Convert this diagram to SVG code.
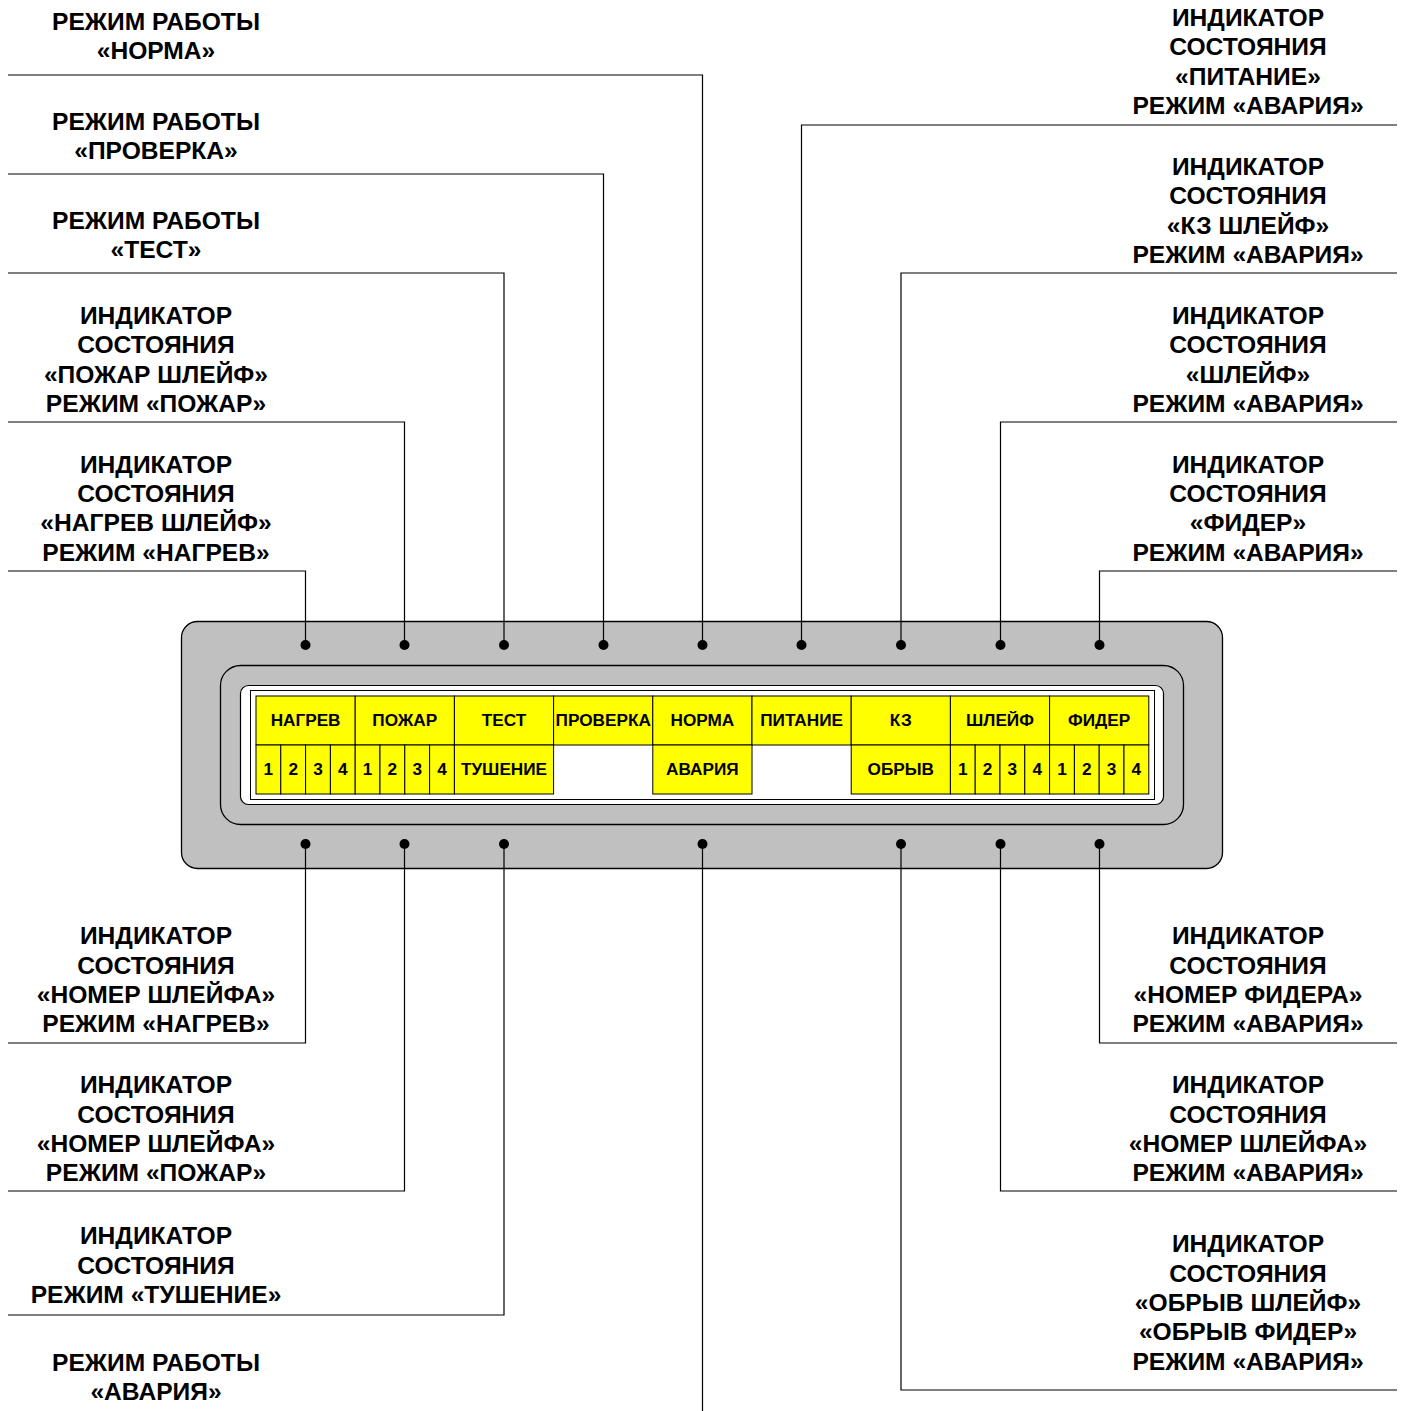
<svg xmlns="http://www.w3.org/2000/svg" width="1405" height="1411" viewBox="0 0 1405 1411">
<style>
.lbl{font-family:"Liberation Sans",Arial,sans-serif;font-weight:bold;font-size:24.6px;fill:#000;text-anchor:middle}
.cell{font-family:"Liberation Sans",Arial,sans-serif;font-weight:bold;font-size:17.2px;fill:#000;text-anchor:middle}
.ln{fill:none;stroke:#000;stroke-width:1.2}
.y{fill:#ffff00;stroke:#000;stroke-width:1}
.dot{fill:#000}
</style>
<rect width="1405" height="1411" fill="#fff"/>
<g id="panel">
<rect x="181.5" y="621.5" width="1041" height="247" rx="16" fill="#c0c0c0" stroke="#000" stroke-width="1.3"/>
<rect x="220.5" y="665.5" width="963" height="159" rx="20" fill="#c0c0c0" stroke="#000" stroke-width="1.3"/>
<rect x="240.5" y="685.5" width="923" height="119" rx="8" fill="#fff" stroke="#000" stroke-width="1.2"/>
<rect x="250.5" y="690.5" width="904" height="109" fill="#fff" stroke="#000" stroke-width="1"/>
</g>
<g id="cells">
<rect class="y" x="256" y="696" width="99.2" height="49"/>
<rect class="y" x="355.2" y="696" width="99.2" height="49"/>
<rect class="y" x="454.4" y="696" width="99.2" height="49"/>
<rect class="y" x="553.6" y="696" width="99.2" height="49"/>
<rect class="y" x="652.8" y="696" width="99.2" height="49"/>
<rect class="y" x="752" y="696" width="99.2" height="49"/>
<rect class="y" x="851.2" y="696" width="99.2" height="49"/>
<rect class="y" x="950.4" y="696" width="99.2" height="49"/>
<rect class="y" x="1049.6" y="696" width="99.2" height="49"/>
<rect class="y" x="256" y="745" width="24.8" height="49"/>
<rect class="y" x="280.8" y="745" width="24.8" height="49"/>
<rect class="y" x="305.6" y="745" width="24.8" height="49"/>
<rect class="y" x="330.4" y="745" width="24.8" height="49"/>
<rect class="y" x="355.2" y="745" width="24.8" height="49"/>
<rect class="y" x="380" y="745" width="24.8" height="49"/>
<rect class="y" x="404.8" y="745" width="24.8" height="49"/>
<rect class="y" x="429.6" y="745" width="24.8" height="49"/>
<rect class="y" x="454.4" y="745" width="99.2" height="49"/>
<rect class="y" x="652.8" y="745" width="99.2" height="49"/>
<rect class="y" x="851.2" y="745" width="99.2" height="49"/>
<rect class="y" x="950.4" y="745" width="24.8" height="49"/>
<rect class="y" x="975.2" y="745" width="24.8" height="49"/>
<rect class="y" x="1000" y="745" width="24.8" height="49"/>
<rect class="y" x="1024.8" y="745" width="24.8" height="49"/>
<rect class="y" x="1049.6" y="745" width="24.8" height="49"/>
<rect class="y" x="1074.4" y="745" width="24.8" height="49"/>
<rect class="y" x="1099.2" y="745" width="24.8" height="49"/>
<rect class="y" x="1124" y="745" width="24.8" height="49"/>
<text class="cell" x="305.6" y="726">НАГРЕВ</text>
<text class="cell" x="404.8" y="726">ПОЖАР</text>
<text class="cell" x="504" y="726">ТЕСТ</text>
<text class="cell" x="603.2" y="726">ПРОВЕРКА</text>
<text class="cell" x="702.4" y="726">НОРМА</text>
<text class="cell" x="801.6" y="726">ПИТАНИЕ</text>
<text class="cell" x="900.8" y="726">КЗ</text>
<text class="cell" x="1000" y="726">ШЛЕЙФ</text>
<text class="cell" x="1099.2" y="726">ФИДЕР</text>
<text class="cell" x="268.4" y="775">1</text>
<text class="cell" x="293.2" y="775">2</text>
<text class="cell" x="318" y="775">3</text>
<text class="cell" x="342.8" y="775">4</text>
<text class="cell" x="367.6" y="775">1</text>
<text class="cell" x="392.4" y="775">2</text>
<text class="cell" x="417.2" y="775">3</text>
<text class="cell" x="442" y="775">4</text>
<text class="cell" x="504" y="775">ТУШЕНИЕ</text>
<text class="cell" x="702.4" y="775">АВАРИЯ</text>
<text class="cell" x="900.8" y="775">ОБРЫВ</text>
<text class="cell" x="962.8" y="775">1</text>
<text class="cell" x="987.6" y="775">2</text>
<text class="cell" x="1012.4" y="775">3</text>
<text class="cell" x="1037.2" y="775">4</text>
<text class="cell" x="1062" y="775">1</text>
<text class="cell" x="1086.8" y="775">2</text>
<text class="cell" x="1111.6" y="775">3</text>
<text class="cell" x="1136.4" y="775">4</text>
</g>
<g id="connectors">
<polyline class="ln" points="8,75 702.5,75 702.5,645"/>
<polyline class="ln" points="8,174 603.5,174 603.5,645"/>
<polyline class="ln" points="8,273 504,273 504,645"/>
<polyline class="ln" points="8,422 404.5,422 404.5,645"/>
<polyline class="ln" points="8,571 305.5,571 305.5,645"/>
<polyline class="ln" points="1397,125 801.5,125 801.5,645"/>
<polyline class="ln" points="1397,273 901,273 901,645"/>
<polyline class="ln" points="1397,422 1000.5,422 1000.5,645"/>
<polyline class="ln" points="1397,571 1099.5,571 1099.5,645"/>
<polyline class="ln" points="305.5,844 305.5,1043 8,1043"/>
<polyline class="ln" points="404.5,844 404.5,1191 8,1191"/>
<polyline class="ln" points="504,844 504,1315 8,1315"/>
<polyline class="ln" points="702.5,844 702.5,1411"/>
<polyline class="ln" points="1099.5,844 1099.5,1043 1397,1043"/>
<polyline class="ln" points="1000.5,844 1000.5,1191 1397,1191"/>
<polyline class="ln" points="901,844 901,1390 1397,1390"/>
<circle class="dot" cx="305.5" cy="645" r="5"/>
<circle class="dot" cx="404.5" cy="645" r="5"/>
<circle class="dot" cx="504" cy="645" r="5"/>
<circle class="dot" cx="603.5" cy="645" r="5"/>
<circle class="dot" cx="702.5" cy="645" r="5"/>
<circle class="dot" cx="801.5" cy="645" r="5"/>
<circle class="dot" cx="901" cy="645" r="5"/>
<circle class="dot" cx="1000.5" cy="645" r="5"/>
<circle class="dot" cx="1099.5" cy="645" r="5"/>
<circle class="dot" cx="305.5" cy="844" r="5"/>
<circle class="dot" cx="404.5" cy="844" r="5"/>
<circle class="dot" cx="504" cy="844" r="5"/>
<circle class="dot" cx="702.5" cy="844" r="5"/>
<circle class="dot" cx="901" cy="844" r="5"/>
<circle class="dot" cx="1000.5" cy="844" r="5"/>
<circle class="dot" cx="1099.5" cy="844" r="5"/>
</g>
<g id="label-norma"><text class="lbl" x="156" y="29.5">РЕЖИМ РАБОТЫ</text><text class="lbl" x="156" y="59">«НОРМА»</text></g>
<g id="label-proverka"><text class="lbl" x="156" y="129.5">РЕЖИМ РАБОТЫ</text><text class="lbl" x="156" y="158.5">«ПРОВЕРКА»</text></g>
<g id="label-test"><text class="lbl" x="156" y="228.5">РЕЖИМ РАБОТЫ</text><text class="lbl" x="156" y="257.5">«ТЕСТ»</text></g>
<g id="label-pozhar"><text class="lbl" x="156" y="323.5">ИНДИКАТОР</text><text class="lbl" x="156" y="352.5">СОСТОЯНИЯ</text><text class="lbl" x="156" y="382.5">«ПОЖАР ШЛЕЙФ»</text><text class="lbl" x="156" y="411.5">РЕЖИМ «ПОЖАР»</text></g>
<g id="label-nagrev"><text class="lbl" x="156" y="472.5">ИНДИКАТОР</text><text class="lbl" x="156" y="501.5">СОСТОЯНИЯ</text><text class="lbl" x="156" y="530.5">«НАГРЕВ ШЛЕЙФ»</text><text class="lbl" x="156" y="560.5">РЕЖИМ «НАГРЕВ»</text></g>
<g id="label-pitanie"><text class="lbl" x="1248" y="25.5">ИНДИКАТОР</text><text class="lbl" x="1248" y="54.5">СОСТОЯНИЯ</text><text class="lbl" x="1248" y="84.5">«ПИТАНИЕ»</text><text class="lbl" x="1248" y="113.5">РЕЖИМ «АВАРИЯ»</text></g>
<g id="label-kz"><text class="lbl" x="1248" y="174.5">ИНДИКАТОР</text><text class="lbl" x="1248" y="203.5">СОСТОЯНИЯ</text><text class="lbl" x="1248" y="233.5">«КЗ ШЛЕЙФ»</text><text class="lbl" x="1248" y="262.5">РЕЖИМ «АВАРИЯ»</text></g>
<g id="label-shleif"><text class="lbl" x="1248" y="323.5">ИНДИКАТОР</text><text class="lbl" x="1248" y="352.5">СОСТОЯНИЯ</text><text class="lbl" x="1248" y="382.5">«ШЛЕЙФ»</text><text class="lbl" x="1248" y="411.5">РЕЖИМ «АВАРИЯ»</text></g>
<g id="label-fider"><text class="lbl" x="1248" y="472.5">ИНДИКАТОР</text><text class="lbl" x="1248" y="501.5">СОСТОЯНИЯ</text><text class="lbl" x="1248" y="530.5">«ФИДЕР»</text><text class="lbl" x="1248" y="560.5">РЕЖИМ «АВАРИЯ»</text></g>
<g id="label-nomer-nagrev"><text class="lbl" x="156" y="943.5">ИНДИКАТОР</text><text class="lbl" x="156" y="973.5">СОСТОЯНИЯ</text><text class="lbl" x="156" y="1002.5">«НОМЕР ШЛЕЙФА»</text><text class="lbl" x="156" y="1031.5">РЕЖИМ «НАГРЕВ»</text></g>
<g id="label-nomer-pozhar"><text class="lbl" x="156" y="1092.5">ИНДИКАТОР</text><text class="lbl" x="156" y="1122.5">СОСТОЯНИЯ</text><text class="lbl" x="156" y="1151.5">«НОМЕР ШЛЕЙФА»</text><text class="lbl" x="156" y="1180.5">РЕЖИМ «ПОЖАР»</text></g>
<g id="label-tushenie"><text class="lbl" x="156" y="1243.5">ИНДИКАТОР</text><text class="lbl" x="156" y="1273.5">СОСТОЯНИЯ</text><text class="lbl" x="156" y="1302.5">РЕЖИМ «ТУШЕНИЕ»</text></g>
<g id="label-avaria"><text class="lbl" x="156" y="1370.5">РЕЖИМ РАБОТЫ</text><text class="lbl" x="156" y="1399.5">«АВАРИЯ»</text></g>
<g id="label-nomer-fidera"><text class="lbl" x="1248" y="943.5">ИНДИКАТОР</text><text class="lbl" x="1248" y="973.5">СОСТОЯНИЯ</text><text class="lbl" x="1248" y="1002.5">«НОМЕР ФИДЕРА»</text><text class="lbl" x="1248" y="1031.5">РЕЖИМ «АВАРИЯ»</text></g>
<g id="label-nomer-shleifa-avaria"><text class="lbl" x="1248" y="1092.5">ИНДИКАТОР</text><text class="lbl" x="1248" y="1122.5">СОСТОЯНИЯ</text><text class="lbl" x="1248" y="1151.5">«НОМЕР ШЛЕЙФА»</text><text class="lbl" x="1248" y="1180.5">РЕЖИМ «АВАРИЯ»</text></g>
<g id="label-obryv"><text class="lbl" x="1248" y="1251.5">ИНДИКАТОР</text><text class="lbl" x="1248" y="1281.5">СОСТОЯНИЯ</text><text class="lbl" x="1248" y="1310.5">«ОБРЫВ ШЛЕЙФ»</text><text class="lbl" x="1248" y="1339.5">«ОБРЫВ ФИДЕР»</text><text class="lbl" x="1248" y="1369.5">РЕЖИМ «АВАРИЯ»</text></g>
</svg>
